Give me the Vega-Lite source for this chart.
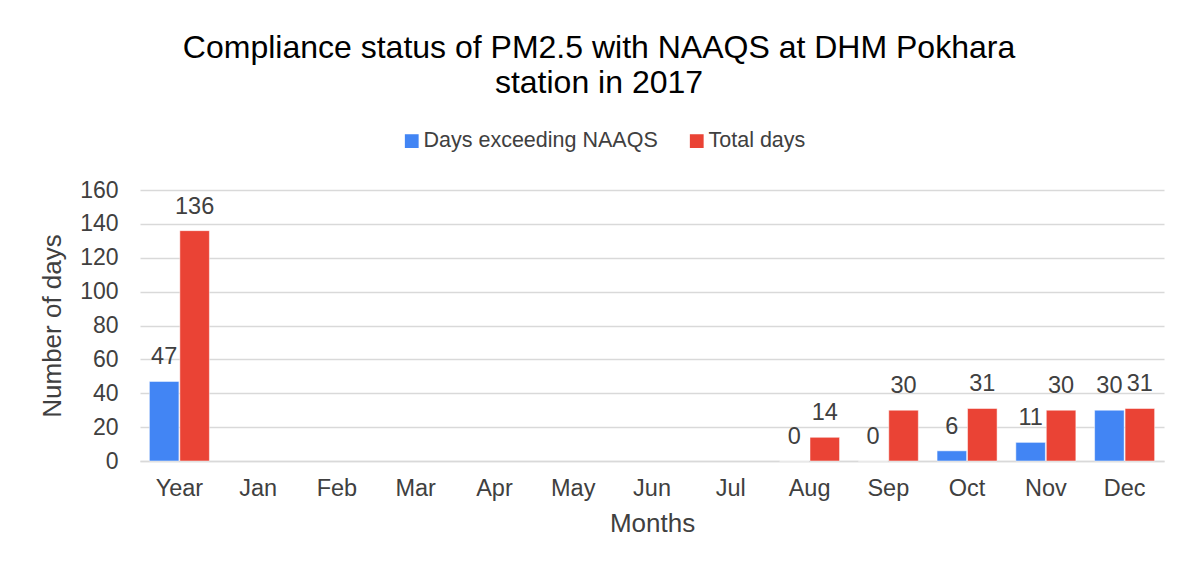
{
  "$schema": "https://vega.github.io/schema/vega-lite/v6.json",
  "width": 1024,
  "height": 271,
  "autosize": {"type": "none"},
  "padding": {"left": 140, "top": 190, "right": 18, "bottom": 106},
  "background": "white",
  "config": {
    "view": {"stroke": null},
    "font": "Liberation Sans",
    "text": {"font": "Liberation Sans"}
  },
  "title": {
    "text": ["Compliance status of PM2.5 with NAAQS at DHM Pokhara", "station in 2017"],
    "anchor": "middle",
    "dx": -53,
    "fontSize": 32,
    "fontWeight": "normal",
    "color": "#000000",
    "lineHeight": 35,
    "offset": 30,
    "font": "Liberation Sans"
  },
  "data": {
    "values": [
      {"month": "Year", "series": "Days exceeding NAAQS", "value": 47},
      {"month": "Year", "series": "Total days", "value": 136},
      {"month": "Aug", "series": "Days exceeding NAAQS", "value": 0},
      {"month": "Aug", "series": "Total days", "value": 14},
      {"month": "Sep", "series": "Days exceeding NAAQS", "value": 0},
      {"month": "Sep", "series": "Total days", "value": 30},
      {"month": "Oct", "series": "Days exceeding NAAQS", "value": 6},
      {"month": "Oct", "series": "Total days", "value": 31},
      {"month": "Nov", "series": "Days exceeding NAAQS", "value": 11},
      {"month": "Nov", "series": "Total days", "value": 30},
      {"month": "Dec", "series": "Days exceeding NAAQS", "value": 30},
      {"month": "Dec", "series": "Total days", "value": 31}
    ]
  },
  "encoding": {
    "x": {
      "field": "month",
      "type": "nominal",
      "scale": {
        "domain": ["Year", "Jan", "Feb", "Mar", "Apr", "May", "Jun", "Jul", "Aug", "Sep", "Oct", "Nov", "Dec"],
        "paddingInner": 0.238,
        "paddingOuter": 0.119
      },
      "axis": {
        "title": "Months",
        "labelAngle": 0,
        "labelFontSize": 23.5,
        "labelColor": "#404040",
        "labelPadding": 15,
        "ticks": false,
        "domainColor": "#d9d9d9",
        "domainWidth": 1.3,
        "titleFontSize": 26,
        "titleFontWeight": "normal",
        "titleColor": "#404040",
        "titlePadding": 11
      }
    },
    "xOffset": {
      "field": "series",
      "type": "nominal",
      "scale": {"domain": ["Days exceeding NAAQS", "Total days"], "paddingInner": 0.03, "paddingOuter": 0}
    },
    "y": {
      "field": "value",
      "type": "quantitative",
      "scale": {"domain": [0, 160], "nice": false},
      "axis": {
        "title": "Number of days",
        "values": [0, 20, 40, 60, 80, 100, 120, 140, 160],
        "labelFontSize": 23,
        "labelColor": "#404040",
        "labelPadding": 22,
        "ticks": false,
        "domain": false,
        "gridColor": "#d9d9d9",
        "gridWidth": 1.3,
        "titleFontSize": 26,
        "titleFontWeight": "normal",
        "titleColor": "#404040",
        "titlePadding": 14
      }
    }
  },
  "layer": [
    {
      "mark": {"type": "bar", "stroke": "white", "strokeWidth": 0.5},
      "encoding": {
        "color": {
          "field": "series",
          "type": "nominal",
          "scale": {"domain": ["Days exceeding NAAQS", "Total days"], "range": ["#4285F4", "#EA4335"]},
          "legend": {
            "title": null,
            "orient": "none",
            "direction": "horizontal",
            "legendX": 261,
            "legendY": -60,
            "symbolType": "square",
            "symbolSize": 190,
            "symbolStrokeWidth": 0,
            "labelFontSize": 21.5,
            "labelLimit": 0,
            "labelColor": "#404040",
            "labelOffset": 1,
            "columnPadding": 28
          }
        }
      }
    },
    {
      "mark": {"type": "text", "baseline": "alphabetic", "dy": -17, "fontSize": 23.5, "color": "#404040"},
      "encoding": {
        "text": {"field": "value", "type": "quantitative"}
      }
    }
  ]
}
